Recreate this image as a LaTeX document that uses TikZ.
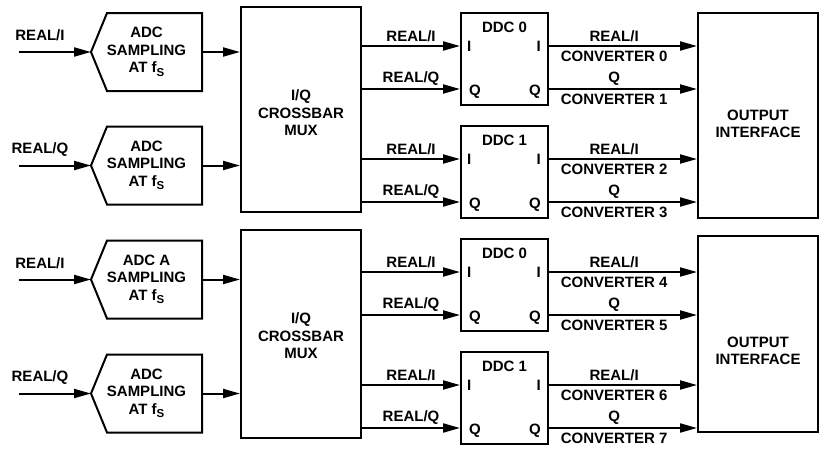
\documentclass[tikz,border=0pt]{standalone}
\usepackage{fontspec}
\setmainfont{Liberation Sans}
\usetikzlibrary{arrows.meta,calc}
\newcommand{\fsub}{f\raisebox{-3.5pt}{\fontsize{11.5}{11.5}\selectfont S}}
\begin{document}
\begin{tikzpicture}[x=1pt,y=-1pt,
  txt/.style={font=\fontsize{15}{17.5}\selectfont\bfseries, inner sep=1pt, align=center},
  ln/.style={line width=2pt},
  box/.style={draw, ln, inner sep=0pt},
  adcbox/.style={inner sep=0pt, outer sep=0pt, minimum width=111pt, minimum height=78pt, txt},
  arr/.style={ln, -{Triangle[length=17pt,width=9pt]}}
]
\useasboundingbox (0,0) rectangle (834,450);

% ADC blocks
\node[adcbox] (adc1) at (146.5,52) {ADC\\SAMPLING\\AT \fsub};
\node[adcbox] (adc2) at (146.5,165.5) {ADC\\SAMPLING\\AT \fsub};
\node[adcbox] (adc3) at (146.5,279.5) {ADC A\\SAMPLING\\AT \fsub};
\node[adcbox] (adc4) at (146.5,393.5) {ADC\\SAMPLING\\AT \fsub};
\foreach \a in {adc1,adc2,adc3,adc4}
  \draw[ln] ([xshift=16pt]\a.north west) -- (\a.north east) -- (\a.south east)
    -- ([xshift=16pt]\a.south west) -- (\a.west) -- cycle;

% inputs
\node[txt] (in1l) at (40,35) {REAL/I};
\node[txt] (in2l) at (40,150) {REAL/Q};
\node[txt] (in3l) at (40,263) {REAL/I};
\node[txt] (in4l) at (40,378) {REAL/Q};
\coordinate (s1) at (19,52);
\coordinate (s2) at (19,165.5);
\coordinate (s3) at (19,279.5);
\coordinate (s4) at (19,393.5);
\foreach \i in {1,2,3,4}
  \draw[arr] (s\i) -- (adc\i.west);

% crossbars
\node[box, minimum width=120pt, minimum height=205pt] (xb1) at (301,109.5) {};
\node[box, minimum width=120pt, minimum height=208pt] (xb2) at (301,334) {};
\node[txt] (xb1t) at (301,113) {I/Q\\CROSSBAR\\MUX};
\node[txt] (xb2t) at (301,336) {I/Q\\CROSSBAR\\MUX};

\draw[arr] (adc1.east) -- (adc1.east -| xb1.west);
\draw[arr] (adc2.east) -- (adc2.east -| xb1.west);
\draw[arr] (adc3.east) -- (adc3.east -| xb2.west);
\draw[arr] (adc4.east) -- (adc4.east -| xb2.west);

% output interfaces
\node[box, minimum width=120pt, minimum height=205pt] (oi1) at (758,115.5) {};
\node[box, minimum width=120pt, minimum height=196pt] (oi2) at (758,334) {};
\node[txt] (oi1t) at (758,124) {OUTPUT\\INTERFACE};
\node[txt] (oi2t) at (758,351) {OUTPUT\\INTERFACE};

% DDCs
\node[box, minimum width=87pt, minimum height=92pt] (d0) at (504.5,59) {};
\node[box, minimum width=87pt, minimum height=92pt] (d1) at (504.5,172) {};
\node[box, minimum width=87pt, minimum height=92pt] (d2) at (504.5,285) {};
\node[box, minimum width=87pt, minimum height=92pt] (d3) at (504.5,398) {};
\node[txt] (d0t) at ($(d0.north)+(0,15)$) {DDC 0};
\node[txt] (d1t) at ($(d1.north)+(0,15)$) {DDC 1};
\node[txt] (d2t) at ($(d2.north)+(0,15)$) {DDC 0};
\node[txt] (d3t) at ($(d3.north)+(0,15)$) {DDC 1};

\foreach \d/\x/\o/\ca/\cb in {d0/xb1/oi1/0/1, d1/xb1/oi1/2/3, d2/xb2/oi2/4/5, d3/xb2/oi2/6/7}{
  \coordinate (\d-i) at ($(\d.center)+(0,-13)$);
  \coordinate (\d-q) at ($(\d.center)+(0,30)$);
  \draw[arr] (\d-i -| \x.east) -- (\d-i -| \d.west)
    node[txt, midway, above=2pt] (\d-inl) {REAL/I};
  \draw[arr] (\d-q -| \x.east) -- (\d-q -| \d.west)
    node[txt, midway, above=2pt] (\d-qnl) {REAL/Q};
  \node[txt, anchor=west] (\d-li) at ($(\d-i -| \d.west)+(6,0)$) {I};
  \node[txt, anchor=west] (\d-lq) at ($(\d-q -| \d.west)+(8,3)$) {Q};
  \node[txt, anchor=east] (\d-ri) at ($(\d-i -| \d.east)+(-7,0)$) {I};
  \node[txt, anchor=east] (\d-rq) at ($(\d-q -| \d.east)+(-7,3)$) {Q};
  \draw[arr] (\d-i -| \d.east) -- (\d-i -| \o.west)
    node[txt, pos=0.44, above=2pt] (\d-oa) {REAL/I}
    node[txt, pos=0.44, below=3pt] (\d-ob) {CONVERTER \ca};
  \draw[arr] (\d-q -| \d.east) -- (\d-q -| \o.west)
    node[txt, pos=0.44, above=2pt] (\d-oc) {Q}
    node[txt, pos=0.44, below=3pt] (\d-od) {CONVERTER \cb};
}
\end{tikzpicture}
\end{document}
